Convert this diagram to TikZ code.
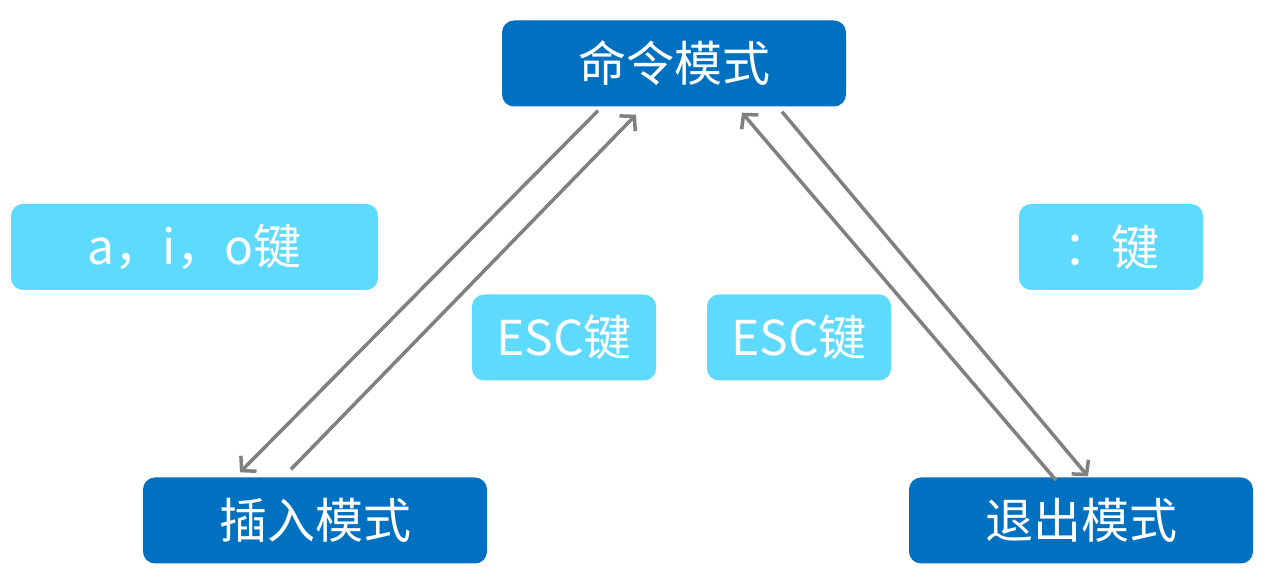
\documentclass[tikz,border=0pt]{standalone}
\usepackage{fontspec}
\newfontfamily\cjk{Noto Sans CJK SC}
\usetikzlibrary{arrows.meta}
\definecolor{modeblue}{HTML}{0070C0}
\definecolor{keycyan}{HTML}{5DDAFD}
\definecolor{linegray}{HTML}{808080}

\begin{document}
\begin{tikzpicture}[x=1pt,y=1pt,
  mode/.style={fill=modeblue,draw=none,rounded corners=12pt,text=white,inner sep=0pt,
    minimum width=344pt,minimum height=86pt,font=\cjk\fontsize{48}{56}\selectfont},
  keybox/.style={fill=keycyan,draw=none,rounded corners=12pt,text=white,inner sep=0pt,
    minimum height=86pt,font=\cjk\fontsize{48}{56}\selectfont},
  link/.style={draw=linegray,line width=3.5pt,-{Straight Barb[length=10pt,width=22pt]}}]

\useasboundingbox (0,0) rectangle (1272,578);

% Draw the three modes
\node[mode] (cmd) at (674,514.5) {命令模式};
\node[mode] (ins) at (315,57.5) {插入模式};
\node[mode] (quit) at (1081,57.5) {退出模式};

% Draw the key labels
\node[keybox,minimum width=367pt] (aio) at (194.5,331) {a，i，o键};
\node[keybox,minimum width=184pt] (escl) at (564,240.5) {ESC键};
\node[keybox,minimum width=184pt] (escr) at (799,240.5) {ESC键};
\node[keybox,minimum width=184pt] (colon) at (1111,331) {：键};

% Draw the transitions
\draw[link] ([xshift=-76pt,yshift=-4pt]cmd.south) -- ([xshift=-75pt,yshift=5pt]ins.north);
\draw[link] ([xshift=-24pt,yshift=8pt]ins.north) -- ([xshift=-38pt,yshift=-8pt]cmd.south);
\draw[link] ([xshift=-25pt,yshift=-3pt]quit.north) -- ([xshift=68pt,yshift=-6pt]cmd.south);
\draw[link] ([xshift=108pt,yshift=-5pt]cmd.south) -- ([xshift=7pt,yshift=1pt]quit.north);

\end{tikzpicture}
\end{document}
